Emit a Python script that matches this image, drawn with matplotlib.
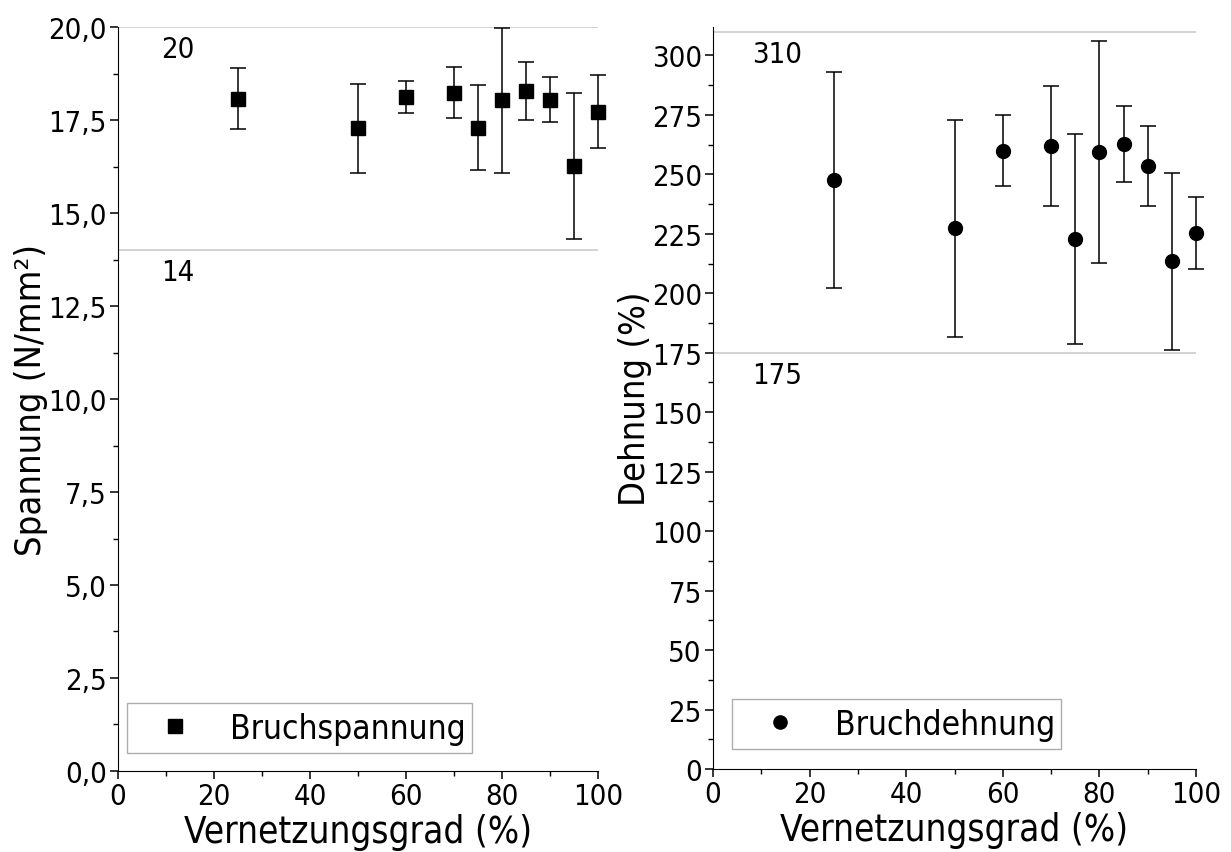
import matplotlib
matplotlib.use("Agg")
import matplotlib.pyplot as plt
from matplotlib.lines import Line2D
from matplotlib.ticker import MultipleLocator, FuncFormatter

plt.rcParams['font.family'] = ['DejaVu Sans']
plt.rcParams['font.stretch'] = 'condensed'

# Vernetzungsgrad (%)
grad = [25, 50, 60, 70, 75, 80, 85, 90, 95, 100]

# Bruchspannung (N/mm²) mit Standardabweichung
spannung = [18.08, 17.28, 18.11, 18.24, 17.30, 18.03, 18.28, 18.05, 16.27, 17.73]
spannung_err = [0.81, 1.19, 0.43, 0.69, 1.15, 1.95, 0.77, 0.60, 1.96, 0.99]

# Bruchdehnung (%) mit Standardabweichung
dehnung = [247.7, 227.3, 260.0, 261.9, 222.9, 259.4, 262.8, 253.5, 213.4, 225.4]
dehnung_err = [45.5, 45.6, 15.0, 25.1, 44.2, 46.7, 16.1, 16.8, 37.3, 15.1]

# Referenzlinien
ref_spannung = [20, 14]
ref_dehnung = [310, 175]

fig = plt.figure(figsize=(12.31, 8.53), dpi=100)
ax1 = fig.add_axes([0.0959, 0.095, 0.390, 0.872])
ax2 = fig.add_axes([0.5792, 0.0973, 0.3924, 0.870])


def style_axis(ax):
    for side in ['top', 'right']:
        ax.spines[side].set_visible(False)
    ax.tick_params(which='major', direction='out', length=6, width=1.1,
                   labelsize=21, pad=2)
    ax.tick_params(which='minor', direction='out', length=3.5, width=1.0)
    ax.xaxis.set_major_locator(MultipleLocator(20))
    ax.xaxis.set_minor_locator(MultipleLocator(10))
    ax.set_xlim(0, 100)
    ax.set_xlabel('Vernetzungsgrad (%)', fontsize=26.5, labelpad=2)


def add_legend(ax, marker, label, box):
    handle = Line2D([], [], marker=marker, ls='none', color='black', ms=9.5)
    leg = ax.legend([handle], [label], loc='lower left', mode='expand',
                    bbox_to_anchor=box, borderaxespad=0, fontsize=24,
                    frameon=True, fancybox=False, handletextpad=0.46,
                    borderpad=0.25, handlelength=2.38)
    leg.get_frame().set_edgecolor('#999999')
    leg.get_frame().set_linewidth(1.0)


# linkes Diagramm: Spannung
for v in ref_spannung:
    ax1.axhline(v, color='#cccccc', lw=1.2, zorder=0)
    ax1.text(9.0, v - 0.22, str(v), fontsize=21, va='top', ha='left')
ax1.errorbar(grad, spannung, yerr=spannung_err, fmt='s', color='black',
             ms=9.5, ecolor='black', elinewidth=1.1, capsize=6, capthick=1.1,
             clip_on=False)
style_axis(ax1)
ax1.set_ylim(0, 20)
ax1.yaxis.set_major_locator(MultipleLocator(2.5))
ax1.yaxis.set_minor_locator(MultipleLocator(1.25))
ax1.yaxis.set_major_formatter(FuncFormatter(lambda y, p: f'{y:.1f}'.replace('.', ',')))
ax1.set_ylabel('Spannung (N/mm²)', fontsize=26, labelpad=0)
add_legend(ax1, 's', 'Bruchspannung', (0.019, 0.024, 0.719, 0.05))

# rechtes Diagramm: Dehnung
for v in ref_dehnung:
    ax2.axhline(v, color='#cccccc', lw=1.2, zorder=0)
    ax2.text(8.0, v - 3.5, str(v), fontsize=21, va='top', ha='left')
ax2.errorbar(grad, dehnung, yerr=dehnung_err, fmt='o', color='black',
             ms=10, ecolor='black', elinewidth=1.1, capsize=6, capthick=1.1,
             clip_on=False)
style_axis(ax2)
ax2.set_ylim(0, 312)
ax2.yaxis.set_major_locator(MultipleLocator(25))
ax2.yaxis.set_minor_locator(MultipleLocator(12.5))
ax2.set_ylabel('Dehnung (%)', fontsize=26, labelpad=0)
add_legend(ax2, 'o', 'Bruchdehnung', (0.039, 0.027, 0.681, 0.05))

fig.savefig('out.png', dpi=100)
